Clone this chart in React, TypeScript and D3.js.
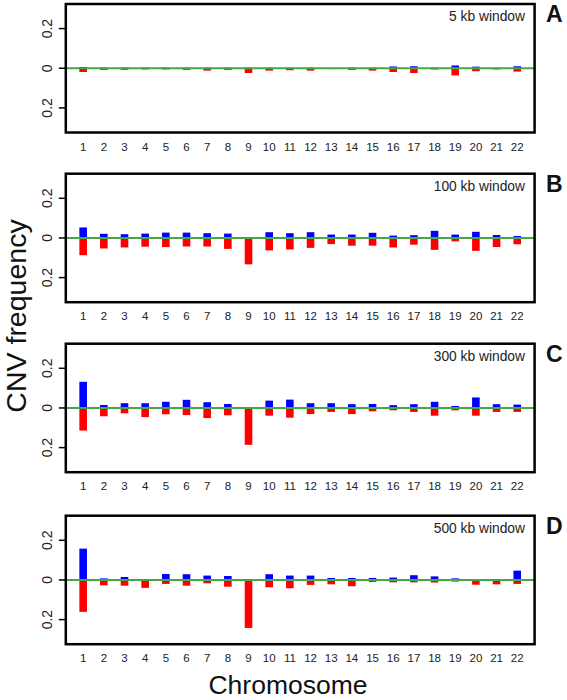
import React from "react";
import * as d3 from "d3";

const chromosomes = d3.range(1, 23);
const panelLetters = ["A", "B", "C", "D"];
const windowLabels = ["5 kb window", "100 kb window", "300 kb window", "500 kb window"];
const yTicks = [0.2, 0, -0.2];
const yTickLabels = ["0.2", "0", "0.2"];

// gains (blue, up) and losses (red, down) per chromosome 1..22
const gainA = [0.006, 0.003, 0.003, 0.003, 0.003, 0.003, 0.003, 0.003, 0.003, 0.003, 0.003, 0.003, 0.002, 0.003, 0.003, 0.009, 0.01, 0.003, 0.014, 0.008, 0.002, 0.01];
const lossA = [0.019, 0.008, 0.008, 0.006, 0.006, 0.008, 0.012, 0.008, 0.024, 0.012, 0.01, 0.012, 0.004, 0.008, 0.012, 0.019, 0.024, 0.006, 0.036, 0.015, 0.006, 0.017];
const gainB = [0.053, 0.021, 0.019, 0.022, 0.027, 0.027, 0.024, 0.022, 0, 0.029, 0.024, 0.029, 0.017, 0.017, 0.026, 0.012, 0.014, 0.036, 0.017, 0.031, 0.015, 0.01];
const lossB = [0.087, 0.053, 0.048, 0.044, 0.046, 0.043, 0.043, 0.055, 0.133, 0.063, 0.058, 0.05, 0.031, 0.039, 0.039, 0.048, 0.034, 0.06, 0.017, 0.065, 0.046, 0.032];
const gainC = [0.132, 0.015, 0.024, 0.024, 0.031, 0.041, 0.029, 0.02, 0, 0.037, 0.042, 0.024, 0.024, 0.019, 0.02, 0.014, 0.019, 0.031, 0.01, 0.053, 0.019, 0.017];
const lossC = [0.114, 0.042, 0.027, 0.046, 0.032, 0.036, 0.051, 0.037, 0.186, 0.039, 0.049, 0.031, 0.02, 0.031, 0.017, 0.012, 0.02, 0.039, 0.012, 0.039, 0.02, 0.02];
const gainD = [0.158, 0.008, 0.015, 0.002, 0.03, 0.029, 0.022, 0.02, 0, 0.029, 0.022, 0.022, 0.01, 0.01, 0.01, 0.012, 0.024, 0.018, 0.008, 0, 0, 0.047];
const lossD = [0.161, 0.027, 0.029, 0.04, 0.02, 0.029, 0.017, 0.034, 0.242, 0.037, 0.042, 0.025, 0.022, 0.032, 0.01, 0.012, 0.012, 0.013, 0.008, 0.024, 0.022, 0.02];

const gains = [gainA, gainB, gainC, gainD];
const losses = [lossA, lossB, lossC, lossD];

const W = 567;
const H = 700;
const boxLeft = 65.8;
const boxRight = 534.6;
const panelTops = [4, 173.7, 343.7, 515.7];
const panelH = 128.5;
const font = "Liberation Sans, Arial, Helvetica, sans-serif";

export default function App() {
  const x = d3.scaleLinear().domain([0.16, 22.84]).range([boxLeft, boxRight]);
  const barW = 7.6;
  return (
    <svg width={W} height={H} style={{ position: "absolute", left: 0, top: 0, background: "#fff" }} fontFamily={font}>
      <rect x={0} y={0} width={W} height={H} fill="#fff" />
      {panelTops.map((top, p) => {
        const y = d3.scaleLinear().domain([-0.324, 0.324]).range([top + panelH, top]);
        const g = gains[p];
        const l = losses[p];
        return (
          <g key={p}>
            {chromosomes.map((c, i) => (
              <g key={c}>
                {g[i] > 0 && (
                  <rect x={x(c) - barW / 2} y={y(g[i])} width={barW} height={y(0) - y(g[i])} fill="#0000ff" />
                )}
                {l[i] > 0 && (
                  <rect x={x(c) - barW / 2} y={y(0)} width={barW} height={y(-l[i]) - y(0)} fill="#ff0000" />
                )}
              </g>
            ))}
            <line x1={boxLeft} x2={boxRight} y1={y(0)} y2={y(0)} stroke="#45a845" strokeWidth={2} />
            <rect x={boxLeft} y={top} width={boxRight - boxLeft} height={panelH} fill="none" stroke="#000" strokeWidth={2.5} />
            {yTicks.map((t, k) => (
              <g key={k}>
                <line x1={boxLeft - 7} x2={boxLeft} y1={y(t)} y2={y(t)} stroke="#000" strokeWidth={1.5} />
                <text
                  transform={`translate(${51.5},${y(t)}) rotate(-90)`}
                  textAnchor="middle"
                  fontSize={14}
                  fill="#222"
                >
                  {yTickLabels[k]}
                </text>
              </g>
            ))}
            {chromosomes.map((c) => (
              <text key={c} x={x(c)} y={top + panelH + 18} textAnchor="middle" fontSize={11.5} fill="#222">
                {c}
              </text>
            ))}
            <text x={525} y={top + 17} textAnchor="end" fontSize={13.8} fill="#222">
              {windowLabels[p]}
            </text>
            <text x={546} y={top + 18} fontSize={23} fontWeight="bold" fill="#111">
              {panelLetters[p]}
            </text>
          </g>
        );
      })}
      <text transform={`translate(${26},${316}) rotate(-90)`} textAnchor="middle" fontSize={28.5} fill="#111">
        CNV frequency
      </text>
      <text x={288} y={694} textAnchor="middle" fontSize={26.5} fill="#111">
        Chromosome
      </text>
    </svg>
  );
}
